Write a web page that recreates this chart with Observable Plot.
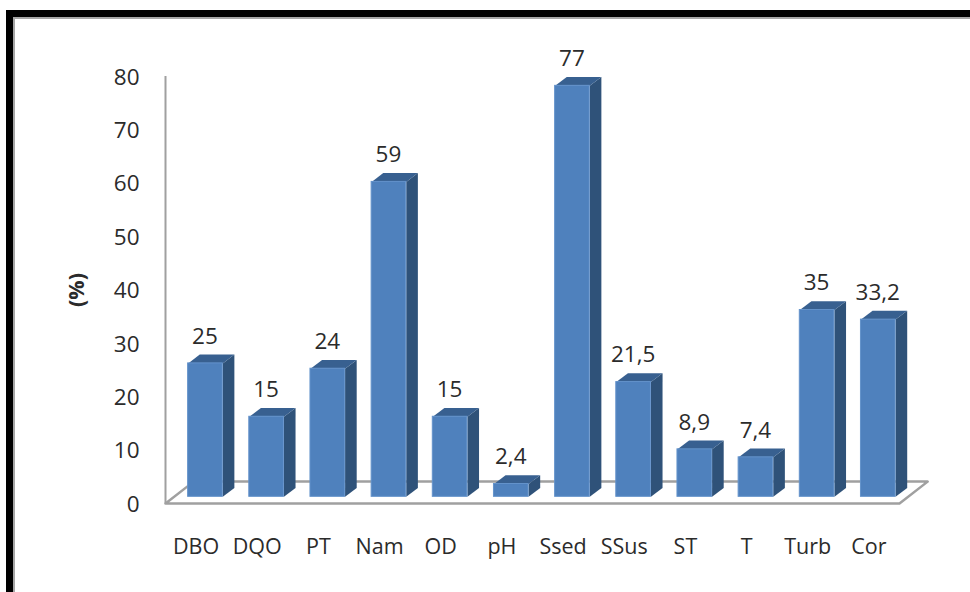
<!DOCTYPE html>
<html>
<head>
<meta charset="utf-8">
<script src="https://cdn.jsdelivr.net/npm/d3@7"></script>
<script src="https://cdn.jsdelivr.net/npm/@observablehq/plot@0.6"></script>
<style>
  html, body { margin: 0; padding: 0; background: #fff; overflow: hidden; }
  #frame { position: absolute; left: 6px; top: 10px; width: 1000px; height: 700px;
           border: 7px solid #000; box-sizing: border-box; }
  #frame::after { content: ""; position: absolute; left: 0; top: 0; right: 0; bottom: 0;
           border: 2px solid #a6a6a6; border-right: 0; border-bottom: 0; }
  #chart { position: absolute; left: 0; top: 0; }
</style>
</head>
<body>
<div id="frame"></div>
<div id="chart"></div>
<script>
const categories = ["DBO", "DQO", "PT", "Nam", "OD", "pH", "Ssed", "SSus", "ST", "T", "Turb", "Cor"];
const values = [25, 15, 24, 59, 15, 2.4, 77, 21.5, 8.9, 7.4, 35, 33.2];
const valueLabels = ["25", "15", "24", "59", "15", "2,4", "77", "21,5", "8,9", "7,4", "35", "33,2"];
const yTicks = [0, 10, 20, 30, 40, 50, 60, 70, 80];

// Oblique projection of the 3D look, in scale units
const barLeft = 0.37, barRight = 0.936;   // front face, relative to the category's left edge
const barLift = 1.25;                     // the bars stand slightly behind the floor's front edge
const barDepthX = 0.19, barDepthY = 1.65; // side and top faces
const floorDepthX = 0.46, floorDepthY = 4.1;

const rows = categories.map((name, i) => ({name, i, value: values[i], label: valueLabels[i]}));

const sideFace = rows.flatMap(d => {
  const x = d.i + barRight, y0 = barLift, y1 = d.value + barLift;
  return [
    {name: d.name, x, y: y0}, {name: d.name, x, y: y1},
    {name: d.name, x: x + barDepthX, y: y1 + barDepthY},
    {name: d.name, x: x + barDepthX, y: y0 + barDepthY}, {name: d.name, x, y: y0}
  ];
});
const topFace = rows.flatMap(d => {
  const xa = d.i + barLeft, xb = d.i + barRight, y = d.value + barLift;
  return [
    {name: d.name, x: xa, y}, {name: d.name, x: xb, y},
    {name: d.name, x: xb + barDepthX, y: y + barDepthY},
    {name: d.name, x: xa + barDepthX, y: y + barDepthY}, {name: d.name, x: xa, y}
  ];
});
const n = categories.length;
const floor = [
  {x: 0, y: 0}, {x: n, y: 0},
  {x: n + floorDepthX, y: floorDepthY},
  {x: floorDepthX, y: floorDepthY}, {x: 0, y: 0}
];

const font = "'Open Sans', sans-serif";
const ink = "#2b2b2b";

const chart = Plot.plot({
  width: 970,
  height: 592,
  marginLeft: 165,
  marginRight: 71,
  marginTop: 76,
  marginBottom: 89,
  style: {background: "transparent", fontFamily: font},
  x: {domain: [0, n]},
  y: {domain: [0, 80]},
  marks: [
    Plot.line(floor, {x: "x", y: "y", stroke: "#a0a0a0", strokeWidth: 2.5, fill: "#fff"}),
    Plot.ruleX([0], {y1: 0, y2: 80, stroke: "#a0a0a0", strokeWidth: 2}),
    Plot.axisY({
      ticks: yTicks, tickSize: 0, tickPadding: 26, label: null, dy: 1,
      fontSize: 22.5, fill: ink, fontFamily: font
    }),
    Plot.axisX({
      ticks: rows.map(d => d.i + 0.5),
      tickFormat: v => categories[Math.floor(v)],
      tickSize: 0, tickPadding: 35, label: null,
      fontSize: 21.5, fill: ink, fontFamily: font
    }),
    Plot.text(["(%)"], {
      frameAnchor: "left", textAnchor: "middle", y: [40], rotate: -90, dx: -88,
      fontSize: 21.5, fontWeight: "bold", fill: ink, fontFamily: font
    }),
    Plot.line(sideFace, {x: "x", y: "y", z: "name", fill: "#2f5279", stroke: "none"}),
    Plot.line(topFace, {x: "x", y: "y", z: "name", fill: "#386090", stroke: "none"}),
    Plot.rect(rows, {
      x1: d => d.i + barLeft, x2: d => d.i + barRight,
      y1: barLift, y2: d => d.value + barLift,
      fill: "#4f81bd", stroke: "#6493cb", strokeWidth: 1
    }),
    Plot.text(rows, {
      x: d => d.i + (barLeft + barRight) / 2,
      y: "value", text: "label", dy: -33.5, dx: -0.5,
      fontSize: 22.5, fill: ink, fontFamily: font
    })
  ]
});
document.getElementById("chart").append(chart);
</script>
</body>
</html>
